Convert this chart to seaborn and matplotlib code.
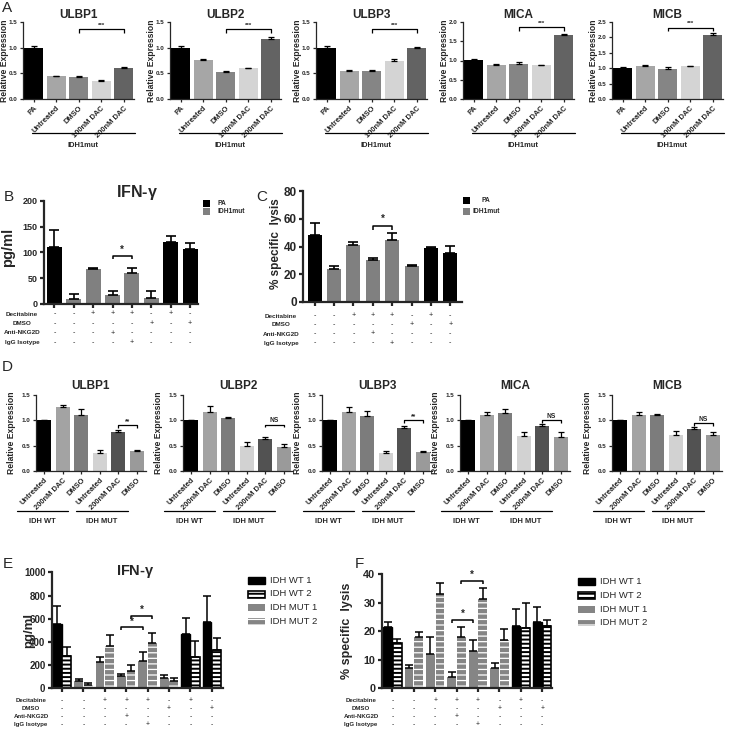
import numpy as np
import pandas as pd
import matplotlib
matplotlib.use("Agg")
import matplotlib.pyplot as plt
import matplotlib.transforms as mtransforms
from matplotlib.patches import Rectangle
import seaborn as sns

# ── Data ──────────────────────────────────────────────────────────────────────
# Panel A: IDH1mut cells, relative expression of NKG2D ligands
A_GENES = ["ULBP1", "ULBP2", "ULBP3", "MICA", "MICB"]
A_CONDS = ["PA", "Untreated", "DMSO", "100nM DAC", "200nM DAC"]
A_ULBP1 = [1.00, 0.44, 0.43, 0.36, 0.60]
A_ULBP1_ERR = [0.03, 0.01, 0.01, 0.01, 0.02]
A_ULBP2 = [1.00, 0.76, 0.52, 0.60, 1.17]
A_ULBP2_ERR = [0.03, 0.02, 0.03, 0.005, 0.04]
A_ULBP3 = [1.00, 0.55, 0.55, 0.75, 1.00]
A_ULBP3_ERR = [0.03, 0.01, 0.01, 0.02, 0.005]
A_MICA = [1.01, 0.89, 0.90, 0.88, 1.65]
A_MICA_ERR = [0.03, 0.02, 0.06, 0.01, 0.05]
A_MICB = [1.01, 1.06, 0.99, 1.06, 2.08]
A_MICB_ERR = [0.02, 0.03, 0.05, 0.01, 0.07]
A_YMAX = [1.5, 1.5, 1.5, 2.0, 2.5]
A_SIG_Y = [1.36, 1.36, 1.36, 1.86, 2.32]

# Panels B / C: PA vs IDH1mut, IFN-gamma and lysis
B_CELLS = ["PA", "IDH1mut", "IDH1mut", "IDH1mut", "IDH1mut", "IDH1mut", "PA", "PA"]
B_IFNG = [111, 10, 67, 17, 61, 11, 120, 107]
B_IFNG_ERR = [33, 9, 3, 9, 9, 14, 13, 12]
C_LYSIS = [48, 24, 41, 30.5, 45, 26, 39, 35.5]
C_LYSIS_ERR = [9, 2, 2, 1.5, 4.5, 0.7, 0.3, 5]

# treatment table (shared by B, C, E, F)
ROW_NAMES = ["Decitabine", "DMSO", "Anti-NKG2D", "IgG Isotype"]
ROW_DECITABINE = ["-", "-", "+", "+", "+", "-", "+", "-"]
ROW_DMSO = ["-", "-", "-", "-", "-", "+", "-", "+"]
ROW_NKG2D = ["-", "-", "-", "+", "-", "-", "-", "-"]
ROW_IGG = ["-", "-", "-", "-", "+", "-", "-", "-"]

# Panel D: IDH WT vs IDH MUT
D_CONDS = ["Untreated", "200nM DAC", "DMSO", "Untreated", "200nM DAC", "DMSO"]
D_ULBP1 = [1.00, 1.26, 1.10, 0.35, 0.77, 0.39]
D_ULBP1_ERR = [0.0, 0.05, 0.12, 0.06, 0.04, 0.02]
D_ULBP2 = [1.00, 1.16, 1.05, 0.49, 0.63, 0.47]
D_ULBP2_ERR = [0.0, 0.13, 0.01, 0.09, 0.05, 0.06]
D_ULBP3 = [1.00, 1.17, 1.08, 0.35, 0.84, 0.37]
D_ULBP3_ERR = [0.0, 0.09, 0.11, 0.04, 0.04, 0.02]
D_MICA = [1.00, 1.11, 1.15, 0.69, 0.89, 0.68]
D_MICA_ERR = [0.0, 0.05, 0.07, 0.08, 0.03, 0.08]
D_MICB = [1.00, 1.10, 1.10, 0.72, 0.82, 0.71]
D_MICB_ERR = [0.0, 0.07, 0.03, 0.06, 0.04, 0.05]
D_SIG = ["**", "NS", "**", "NS", "NS"]
D_SIG_Y = [0.90, 0.91, 1.00, 1.00, 0.94]

# Panels E / F: two lines per genotype
E_SERIES_LEFT = ["IDH WT 1"] + ["IDH MUT 1"] * 5 + ["IDH WT 1"] * 2
E_SERIES_RIGHT = ["IDH WT 2"] + ["IDH MUT 2"] * 5 + ["IDH WT 2"] * 2
E_LEFT = [557, 66, 230, 109, 239, 92, 468, 569]
E_LEFT_ERR = [156, 14, 43, 17, 71, 20, 135, 228]
E_RIGHT = [282, 32, 365, 150, 391, 63, 270, 330]
E_RIGHT_ERR = [77, 11, 92, 51, 83, 23, 141, 101]
F_LEFT = [21.4, 7.0, 12.2, 3.9, 13.2, 7.0, 22.0, 23.2]
F_LEFT_ERR = [2.0, 1.2, 5.9, 1.7, 3.8, 2.0, 5.7, 5.2]
F_RIGHT = [15.8, 18.0, 33.1, 18.1, 31.3, 17.1, 21.2, 21.9]
F_RIGHT_ERR = [1.4, 1.6, 3.7, 3.4, 4.0, 3.6, 8.6, 2.1]
LEGEND_SERIES = ["IDH WT 1", "IDH WT 2", "IDH MUT 1", "IDH MUT 2"]

# ── Style ─────────────────────────────────────────────────────────────────────
sns.set_style("ticks")
plt.rcParams["font.family"] = ["Liberation Sans", "DejaVu Sans"]
plt.rcParams["hatch.linewidth"] = 1.1

A_COLORS = ["#000000", "#a6a6a6", "#858585", "#d4d4d4", "#636363"]
D_COLORS = ["#000000", "#a3a3a3", "#7c7c7c", "#d2d2d2", "#525252", "#9a9a9a"]
CELL_CLR = {"PA": "#000000", "IDH1mut": "#808080"}
GRAY = "#858585"
SERIES_STYLE = {
    "IDH WT 1": dict(fc="black", ec="black", hatch=None, lw=1.0, hlw=1.1),
    "IDH WT 2": dict(fc="white", ec="black", hatch="----", lw=1.2, hlw=1.4),
    "IDH MUT 1": dict(fc=GRAY, ec=GRAY, hatch=None, lw=0.0, hlw=1.1),
    "IDH MUT 2": dict(fc=GRAY, ec="white", hatch="---", lw=0.0, hlw=0.9),
}

W = H = 729
fig = plt.figure(figsize=(7.29, 7.29), dpi=100)


def px_axes(left, top, right, bottom):
    return fig.add_axes([left / W, 1 - bottom / H, (right - left) / W, (bottom - top) / H])


def prism(ax, lw, fs, ticklen=3):
    sns.despine(ax=ax)
    ax.spines["left"].set_linewidth(lw)
    ax.spines["bottom"].set_linewidth(lw)
    ax.tick_params(axis="both", width=lw, length=ticklen, labelsize=fs, pad=1.5)


def simple_bars(ax, vals, errs, colors, width, elw, cap):
    pos = list(range(len(vals)))
    sns.barplot(x=pos, y=vals, hue=pos, palette=colors, dodge=False, legend=False,
                width=width, saturation=1, linewidth=0, ax=ax)
    ax.errorbar(pos, vals, yerr=[np.zeros(len(errs)), errs], fmt="none",
                ecolor="black", elinewidth=elw, capsize=cap, capthick=elw, zorder=3)
    return pos


def bracket(ax, x1, x2, y, drop, label, fs, lw=1.0, gap=0.0):
    ax.plot([x1, x1, x2, x2], [y - drop, y, y, y - drop], color="black", lw=lw,
            clip_on=False, solid_capstyle="butt")
    ax.text((x1 + x2) / 2, y + gap, label, ha="center", va="bottom",
            fontsize=fs, fontweight="bold")


def fig_text(x, y, s, **kw):
    fig.text(x / W, 1 - y / H, s, **kw)


def apply_style(p, st):
    p.set_facecolor(st["fc"])
    p.set_edgecolor(st["ec"])
    p.set_hatch(st["hatch"])
    p.set_linewidth(st["lw"])
    if hasattr(p, "set_hatch_linewidth"):
        p.set_hatch_linewidth(st["hlw"])


def legend_square(x, y, w, h, st=None, fc=None):
    r = Rectangle((x / W, 1 - (y + h) / H), w / W, h / H, transform=fig.transFigure,
                  facecolor=fc if fc else "black", linewidth=0)
    if st is not None:
        apply_style(r, st)
    fig.patches.append(r)


def treatment_table(ax, label_cx, row_ys, fs):
    trans = mtransforms.blended_transform_factory(ax.transData, fig.transFigure)
    rows = [ROW_DECITABINE, ROW_DMSO, ROW_NKG2D, ROW_IGG]
    for name, row, y in zip(ROW_NAMES, rows, row_ys):
        fig_text(label_cx, y, name, ha="center", va="center", fontsize=fs, fontweight="bold")
        for i, s in enumerate(row):
            ax.text(i, 1 - y / H, s, transform=trans, ha="center", va="center",
                    fontsize=fs + 0.5, clip_on=False)


def grouped_bars(ax, lv, le, rv, re_, ls, rs):
    df = pd.DataFrame({"group": np.repeat(np.arange(len(lv)), 2),
                       "slot": ["L", "R"] * len(lv),
                       "value": np.column_stack([lv, rv]).ravel()})
    sns.barplot(data=df, x="group", y="value", hue="slot", hue_order=["L", "R"],
                dodge=True, width=0.9, gap=0.08, legend=False, saturation=1,
                errorbar=None, ax=ax)
    centers = {}
    xs, ys, es = [], [], []
    for p in ax.patches:
        cx = p.get_x() + p.get_width() / 2
        g = int(round(cx))
        slot = 0 if cx < g else 1
        series = (ls if slot == 0 else rs)[g]
        apply_style(p, SERIES_STYLE[series])
        centers[(g, slot)] = cx
        xs.append(cx)
        ys.append(p.get_height())
        es.append((le if slot == 0 else re_)[g])
    ax.errorbar(xs, ys, yerr=[np.zeros(len(es)), es], fmt="none", ecolor="black",
                elinewidth=1.1, capsize=2.6, capthick=1.1, zorder=3)
    return centers


def series_legend(x, tops, fs):
    for series, top in zip(LEGEND_SERIES, tops):
        legend_square(x, top, 17, 7, st=SERIES_STYLE[series])
        fig_text(x + 22, top + 3.5, series, ha="left", va="center", fontsize=fs)


# ── Panel A ───────────────────────────────────────────────────────────────────
A_VALS = [A_ULBP1, A_ULBP2, A_ULBP3, A_MICA, A_MICB]
A_ERRS = [A_ULBP1_ERR, A_ULBP2_ERR, A_ULBP3_ERR, A_MICA_ERR, A_MICB_ERR]
A_LEFTS = [23, 170, 316, 463, 612]
for gene, vals, errs, ymax, sig_y, left in zip(A_GENES, A_VALS, A_ERRS, A_YMAX, A_SIG_Y, A_LEFTS):
    ax = px_axes(left, 22, left + 111, 99)
    pos = simple_bars(ax, vals, errs, A_COLORS, 0.83, 0.9, 2.2)
    prism(ax, 0.9, 4.5, ticklen=2.5)
    ax.set_xlim(-0.47, 4.45)
    ax.set_ylim(0, ymax)
    yt = np.arange(0, ymax + 0.01, 0.5)
    ax.set_yticks(yt, [f"{v:.1f}" for v in yt], fontweight="bold")
    ax.set_xticks(pos, A_CONDS, rotation=45, ha="right", rotation_mode="anchor",
                  fontsize=5.4, fontweight="bold")
    ax.set_xlabel("")
    ax.set_ylabel("Relative Expression", fontsize=6.2, fontweight="bold")
    ax.yaxis.set_label_coords(-0.125, 0.5)
    ax.set_title(gene, fontsize=8.5, fontweight="bold", pad=3)
    bracket(ax, 2, 4, sig_y, 0.045 * ymax, "***", 4.5, lw=0.9, gap=0.02 * ymax)
    ax.plot([0.08, 1.01], [-0.44, -0.44], transform=ax.transAxes, clip_on=False,
            color="black", lw=0.9)
    ax.text(0.545, -0.6, "IDH1mut", transform=ax.transAxes, ha="center", va="center",
            fontsize=5.4, fontweight="bold")

fig_text(7, 8, "A", ha="center", va="center", fontsize=11)

# ── Panel B ───────────────────────────────────────────────────────────────────
ax = px_axes(44, 201, 198, 304)
pos = simple_bars(ax, B_IFNG, B_IFNG_ERR, [CELL_CLR[c] for c in B_CELLS], 0.77, 1.2, 3.5)
prism(ax, 1.6, 6.5)
ax.set_xlim(-0.54, 7.41)
ax.set_ylim(0, 200)
ax.set_yticks([0, 50, 100, 150, 200], ["0", "50", "100", "150", "200"], fontweight="bold")
ax.set_xticks(pos, [""] * len(pos))
ax.set_xlabel("")
ax.set_ylabel("pg/ml", fontsize=10.5, fontweight="bold")
ax.yaxis.set_label_coords(-0.19, 0.55)
bracket(ax, 3, 4, 94, 6, "*", 7, lw=1.1, gap=2)
treatment_table(ax, 22, [314, 323.5, 333, 342.5], 4.6)
fig_text(137, 192, r"IFN-$\mathregular{\gamma}$", ha="center", va="center",
         fontsize=11.5, fontweight="bold")
legend_square(203, 200, 7, 7, fc=CELL_CLR["PA"])
legend_square(203, 208, 7, 7, fc=CELL_CLR["IDH1mut"])
fig_text(222, 203.5, "PA", ha="center", va="center", fontsize=4.8, fontweight="bold")
fig_text(231, 211.5, "IDH1mut", ha="center", va="center", fontsize=4.8, fontweight="bold")
fig_text(9, 197, "B", ha="center", va="center", fontsize=11)

# ── Panel C ───────────────────────────────────────────────────────────────────
ax = px_axes(303, 191, 462, 302)
pos = simple_bars(ax, C_LYSIS, C_LYSIS_ERR, [CELL_CLR[c] for c in B_CELLS], 0.73, 1.2, 3.5)
prism(ax, 1.6, 8.5)
ax.set_xlim(-0.6, 7.6)
ax.set_ylim(0, 80)
ax.set_yticks([0, 20, 40, 60, 80], ["0", "20", "40", "60", "80"], fontweight="bold")
ax.set_xticks(pos, [""] * len(pos))
ax.set_xlabel("")
ax.set_ylabel("% specific  lysis", fontsize=8.5, fontweight="bold")
ax.yaxis.set_label_coords(-0.13, 0.53)
bracket(ax, 3, 4, 55, 3, "*", 7, lw=1.1, gap=1)
treatment_table(ax, 281, [316, 325, 334, 343], 4.6)
legend_square(463, 197, 7, 7, fc=CELL_CLR["PA"])
legend_square(463, 208, 7, 7, fc=CELL_CLR["IDH1mut"])
fig_text(486, 200.5, "PA", ha="center", va="center", fontsize=4.8, fontweight="bold")
fig_text(486, 211.5, "IDH1mut", ha="center", va="center", fontsize=4.8, fontweight="bold")
fig_text(262, 197, "C", ha="center", va="center", fontsize=11)

# ── Panel D ───────────────────────────────────────────────────────────────────
D_VALS = [D_ULBP1, D_ULBP2, D_ULBP3, D_MICA, D_MICB]
D_ERRS = [D_ULBP1_ERR, D_ULBP2_ERR, D_ULBP3_ERR, D_MICA_ERR, D_MICB_ERR]
D_LEFTS = [36, 183, 322, 460, 612]
for gene, vals, errs, sig, sig_y, left in zip(A_GENES, D_VALS, D_ERRS, D_SIG, D_SIG_Y, D_LEFTS):
    ax = px_axes(left, 395, left + 110, 471)
    pos = simple_bars(ax, vals, errs, D_COLORS, 0.77, 0.9, 2.2)
    prism(ax, 0.9, 4.5, ticklen=2.5)
    ax.set_xlim(-0.45, 5.5)
    ax.set_ylim(0, 1.5)
    ax.set_yticks([0, 0.5, 1.0, 1.5], ["0.0", "0.5", "1.0", "1.5"], fontweight="bold")
    ax.set_xticks(pos, D_CONDS, rotation=45, ha="right", rotation_mode="anchor",
                  fontsize=5.4, fontweight="bold")
    ax.set_xlabel("")
    ax.set_ylabel("Relative Expression", fontsize=6.2, fontweight="bold")
    ax.yaxis.set_label_coords(-0.18, 0.5)
    ax.set_title(gene, fontsize=8.5, fontweight="bold", pad=4)
    bracket(ax, 4, 5, sig_y, 0.05, sig, 4.8, lw=0.9, gap=0.01)
    for x0, x1, name in [(-0.17, 0.29, "IDH WT"), (0.36, 0.84, "IDH MUT")]:
        ax.plot([x0, x1], [-0.53, -0.53], transform=ax.transAxes, clip_on=False,
                color="black", lw=0.9)
        ax.text((x0 + x1) / 2, -0.66, name, transform=ax.transAxes, ha="center",
                va="center", fontsize=5.4, fontweight="bold")

fig_text(7, 367, "D", ha="center", va="center", fontsize=11)

# ── Panel E ───────────────────────────────────────────────────────────────────
ax = px_axes(51.7, 572.3, 222.5, 688.3)
cen = grouped_bars(ax, E_LEFT, E_LEFT_ERR, E_RIGHT, E_RIGHT_ERR, E_SERIES_LEFT, E_SERIES_RIGHT)
prism(ax, 1.6, 7)
ax.set_xlim(-0.48, 7.5)
ax.set_ylim(0, 1000)
ax.set_yticks(range(0, 1001, 200), [str(v) for v in range(0, 1001, 200)], fontweight="bold")
ax.set_xticks(range(8), [""] * 8)
ax.set_xlabel("")
ax.set_ylabel("pg/ml", fontsize=9.5, fontweight="bold")
ax.yaxis.set_label_coords(-0.098, 0.5)
bracket(ax, cen[(3, 0)], cen[(4, 0)], 528, 25, "*", 7, lw=1.1, gap=5)
bracket(ax, cen[(3, 1)], cen[(4, 1)], 626, 25, "*", 7, lw=1.1, gap=5)
treatment_table(ax, 31, [700.7, 708.3, 716.5, 724.3], 4.4)
fig_text(135, 571, r"IFN-$\mathregular{\gamma}$", ha="center", va="center",
         fontsize=10.5, fontweight="bold")
series_legend(248, [577, 590.5, 604, 617.5], 6.8)
fig_text(8, 564, "E", ha="center", va="center", fontsize=11)

# ── Panel F ───────────────────────────────────────────────────────────────────
ax = px_axes(381.7, 574.3, 552, 688.3)
cen = grouped_bars(ax, F_LEFT, F_LEFT_ERR, F_RIGHT, F_RIGHT_ERR, E_SERIES_LEFT, E_SERIES_RIGHT)
prism(ax, 1.6, 7.8)
ax.set_xlim(-0.5, 7.46)
ax.set_ylim(0, 40)
ax.set_yticks(range(0, 41, 10), [str(v) for v in range(0, 41, 10)], fontweight="bold")
ax.set_xticks(range(8), [""] * 8)
ax.set_xlabel("")
ax.set_ylabel("% specific  lysis", fontsize=9, fontweight="bold")
ax.yaxis.set_label_coords(-0.17, 0.5)
bracket(ax, cen[(3, 0)], cen[(4, 0)], 24, 1, "*", 7, lw=1.1, gap=0.2)
bracket(ax, cen[(3, 1)], cen[(4, 1)], 37.7, 1, "*", 7, lw=1.1, gap=0.2)
treatment_table(ax, 361, [700.7, 708.3, 716.5, 724.3], 4.4)
series_legend(578, [578, 592, 605.5, 619], 6.8)
fig_text(359, 564, "F", ha="center", va="center", fontsize=11)

fig.savefig("out.png", dpi=100, facecolor="white")
